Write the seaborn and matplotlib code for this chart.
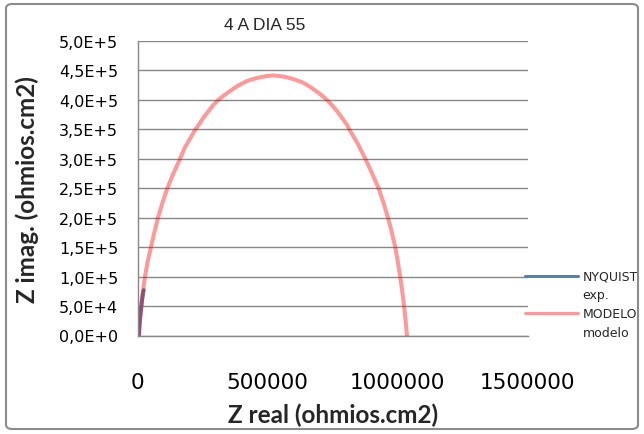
import matplotlib
matplotlib.use("Agg")
import matplotlib.pyplot as plt
from matplotlib.patches import FancyBboxPatch
from matplotlib.lines import Line2D
from matplotlib.legend_handler import HandlerLine2D
import numpy as np
import seaborn as sns
import pandas as pd

# ---- data ----
exp_zreal = [4000, 8000, 12000, 16000, 20000, 23000]
exp_zimag = [0, 25000, 42000, 58000, 70000, 77000]

model_zreal = [5000, 8000, 14000, 20000, 28000, 38000, 51000, 64000, 78000, 95000,
               114000, 137000, 163000, 180000, 201000, 222000, 240000, 258000,
               278000, 290000, 310000, 330000, 355000, 385000, 420000, 445000,
               471000, 497000, 522000, 548000, 574000, 605000, 638000, 662000,
               690000, 709000, 728000, 748000, 767000, 786000, 805000, 814000,
               845000, 876000, 900000, 927000, 946000, 963000, 978000, 991000,
               1001000, 1010000, 1018000, 1025000, 1031000, 1036000]
model_zimag = [0, 25000, 50000, 75000, 100000, 125000, 150000, 175000, 200000, 225000,
               250000, 275000, 300000, 318000, 334000, 350000, 361000, 373000,
               384000, 391000, 400000, 407000, 415000, 424000, 432000, 435500,
               438500, 440500, 441500, 440500, 438500, 434500, 429000, 422500,
               414000, 407500, 400000, 391000, 381000, 369500, 358000, 350000,
               327000, 300000, 277000, 250000, 225000, 200000, 175000, 150000,
               125000, 100000, 75000, 50000, 25000, 0]

y_ticks = [0, 50000, 100000, 150000, 200000, 250000, 300000, 350000, 400000, 450000, 500000]
y_tick_labels = ["0,0E+0", "5,0E+4", "1,0E+5", "1,5E+5", "2,0E+5", "2,5E+5",
                 "3,0E+5", "3,5E+5", "4,0E+5", "4,5E+5", "5,0E+5"]
x_ticks = [0, 500000, 1000000, 1500000]
x_tick_labels = ["0", "500000", "1000000", "1500000"]

title = "4 A DIA 55"
xlabel = "Z real (ohmios.cm2)"
ylabel = "Z imag. (ohmios.cm2)"
series_labels = ["NYQUIST\nexp.", "MODELO\nmodelo"]

sns.set_style("white")
plt.rcParams['font.family'] = ['DejaVu Sans']

exp_df = pd.DataFrame({"x": exp_zreal, "y": exp_zimag})
mod_df = pd.DataFrame({"x": model_zreal, "y": model_zimag})

fig = plt.figure(figsize=(6.44, 4.35), dpi=100)
ax = fig.add_axes([137.7 / 644, 1 - 336.5 / 435, (527.5 - 137.7) / 644, (336.5 - 42) / 435])

grid_col = "#878787"
sns.lineplot(data=exp_df, x="x", y="y", ax=ax, sort=False, estimator=None,
             color="#4F81BD", linewidth=2.9, label=series_labels[0])
sns.lineplot(data=mod_df, x="x", y="y", ax=ax, sort=False, estimator=None,
             color="#FF0000", alpha=0.4, linewidth=2.9, label=series_labels[1])
for ln in ax.get_lines():
    ln.set_solid_joinstyle("round")

ax.set_xlim(0, 1500000)
ax.set_ylim(0, 500000)
ax.set_yticks(y_ticks)
ax.set_yticklabels(y_tick_labels, fontsize=11.5)
ax.set_xticks(x_ticks)
ax.set_xticklabels(x_tick_labels, fontsize=15.5)
ax.yaxis.grid(True, color=grid_col, linewidth=1)
ax.xaxis.grid(False)
ax.set_axisbelow(True)
for s in ["top", "right"]:
    ax.spines[s].set_visible(False)
for s in ["left", "bottom"]:
    ax.spines[s].set_color(grid_col)
    ax.spines[s].set_linewidth(1)
ax.tick_params(axis="y", direction="out", length=4.8, width=1, color=grid_col, pad=9.3, labelcolor="black")
ax.tick_params(axis="x", direction="out", length=5.8, width=1, color=grid_col, pad=20.5, labelcolor="black")

ax.set_xlabel(xlabel, fontsize=17.5, fontweight="bold", family=['Lato', 'DejaVu Sans'])
ax.set_ylabel(ylabel, fontsize=17.5, fontweight="bold", family=['Lato', 'DejaVu Sans'])
ax.xaxis.set_label_coords(0.5, -0.226)
ax.yaxis.set_label_coords(-0.254, 0.5)

fig.text(265 / 644, 1 - 26 / 435, title, ha="center", va="center", fontsize=12.5,
         family=['Liberation Sans', 'DejaVu Sans'])

LEG_FS = 9.0


class TopLine(HandlerLine2D):
    def create_artists(self, legend, orig_handle, xdescent, ydescent, width,
                       height, fontsize, trans):
        arts = super().create_artists(legend, orig_handle, xdescent, ydescent,
                                      width, height, fontsize, trans)
        for a in arts:
            a.set_ydata(np.asarray(a.get_ydata(), dtype=float) + 0.8 * fontsize)
        return arts


leg = ax.legend(loc="upper left", bbox_to_anchor=(525 / 644, 1 - 270 / 435),
                bbox_transform=fig.transFigure, frameon=False, fontsize=LEG_FS,
                handlelength=4.2, handletextpad=0.4, labelspacing=0.45,
                borderpad=0, borderaxespad=0, handler_map={Line2D: TopLine()})
for h in leg.get_lines():
    h.set_linewidth(2.2)
for t in leg.get_texts():
    t.set_linespacing(1.6)

border = FancyBboxPatch((6 / 644, 5 / 435), (638 - 6) / 644, (430 - 5) / 435,
                        boxstyle="round,pad=0,rounding_size=0.01",
                        transform=fig.transFigure, facecolor="none",
                        edgecolor="#8c8c8c", linewidth=1.5)
fig.patches.append(border)

fig.savefig("out.png", dpi=100)
